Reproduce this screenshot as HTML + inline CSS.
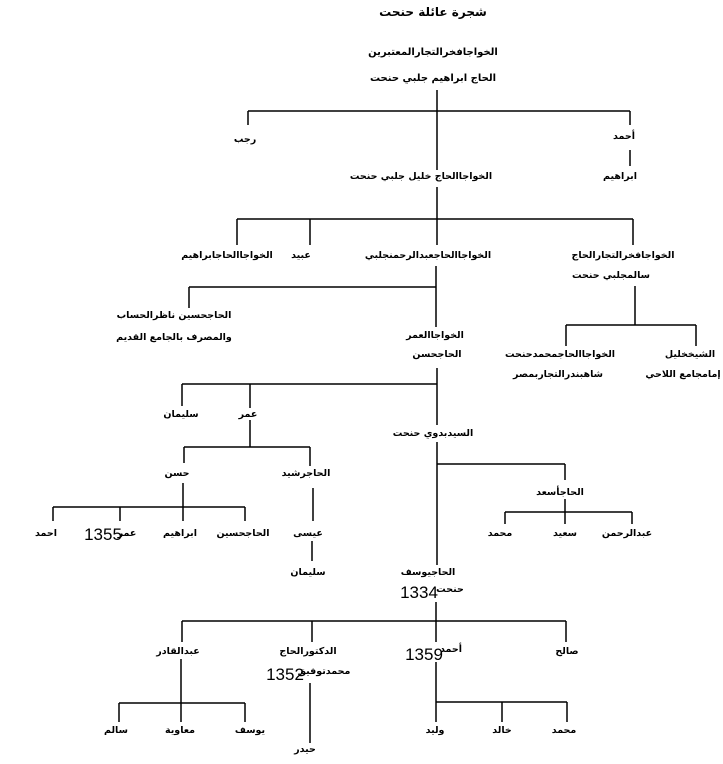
<!DOCTYPE html>
<html><head><meta charset="utf-8"><style>
html,body{margin:0;padding:0;background:#fff;width:723px;height:764px;overflow:hidden}
svg{display:block}
text{font-family:"DejaVu Sans",sans-serif;font-size:9.5px;font-weight:bold;fill:#000;text-anchor:middle;direction:rtl}
.n{font-family:"Liberation Sans Narrow","Liberation Sans",sans-serif;font-size:17px;font-weight:normal;direction:ltr}
line{stroke:#000;stroke-width:1.5}
</style></head><body>
<svg width="723" height="764" viewBox="0 0 723 764">
<text x="433" y="16" style="font-size:12px">شجرة عائلة حنحت</text>
<text x="433" y="55" style="font-size:10px">الخواجافخرالتجارالمعتبرين</text>
<text x="433" y="81" style="font-size:10px">الحاج ابراهيم جلبي حنحت</text>
<line x1="437" y1="90" x2="437" y2="170"/>
<line x1="248" y1="111" x2="630" y2="111"/>
<line x1="248" y1="111" x2="248" y2="125"/>
<line x1="630" y1="111" x2="630" y2="125"/>
<text x="245" y="142">رجب</text>
<text x="624" y="139">أحمد</text>
<line x1="630" y1="150" x2="630" y2="166"/>
<text x="620" y="179">ابراهيم</text>
<text x="421" y="179">الخواجاالحاج خليل جلبي حنحت</text>
<line x1="437" y1="187" x2="437" y2="245"/>
<line x1="237" y1="219" x2="633" y2="219"/>
<line x1="237" y1="219" x2="237" y2="245"/>
<line x1="310" y1="219" x2="310" y2="245"/>
<line x1="633" y1="219" x2="633" y2="245"/>
<text x="227" y="258">الخواجاالحاجابراهيم</text>
<text x="301" y="258">عبيد</text>
<text x="428" y="258">الخواجاالحاجعبدالرحمنجلبي</text>
<text x="623" y="258">الخواجافخرالتجارالحاج</text>
<text x="611" y="278">سالمجلبي حنحت</text>
<line x1="436" y1="266" x2="436" y2="327"/>
<line x1="189" y1="287" x2="436" y2="287"/>
<line x1="189" y1="287" x2="189" y2="308"/>
<text x="174" y="318">الحاجحسين ناظرالحساب</text>
<text x="174" y="340">والمصرف بالجامع القديم</text>
<text x="435" y="338">الخواجاالعمر</text>
<text x="437" y="357">الحاجحسن</text>
<line x1="635" y1="286" x2="635" y2="325"/>
<line x1="566" y1="325" x2="696" y2="325"/>
<line x1="566" y1="325" x2="566" y2="346"/>
<line x1="696" y1="325" x2="696" y2="346"/>
<text x="560" y="357">الخواجاالحاجمحمدحنحت</text>
<text x="558" y="377">شاهبندرالتجاربمصر</text>
<text x="690" y="357">الشيخخليل</text>
<text x="683" y="377">إمامجامع اللاحي</text>
<line x1="437" y1="368" x2="437" y2="425"/>
<line x1="182" y1="384" x2="437" y2="384"/>
<line x1="182" y1="384" x2="182" y2="406"/>
<line x1="250" y1="384" x2="250" y2="408"/>
<text x="181" y="417">سليمان</text>
<text x="248" y="417">عمر</text>
<text x="433" y="436">السيدبدوي حنحت</text>
<line x1="250" y1="420" x2="250" y2="447"/>
<line x1="184" y1="447" x2="310" y2="447"/>
<line x1="184" y1="447" x2="184" y2="463"/>
<line x1="310" y1="447" x2="310" y2="466"/>
<text x="177" y="476">حسن</text>
<text x="306" y="476">الحاجرشيد</text>
<line x1="183" y1="483" x2="183" y2="507"/>
<line x1="53" y1="507" x2="245" y2="507"/>
<line x1="53" y1="507" x2="53" y2="521"/>
<line x1="120" y1="507" x2="120" y2="521"/>
<line x1="183" y1="507" x2="183" y2="521"/>
<line x1="245" y1="507" x2="245" y2="521"/>
<line x1="313" y1="488" x2="313" y2="521"/>
<line x1="437" y1="442" x2="437" y2="565"/>
<line x1="437" y1="464" x2="565" y2="464"/>
<line x1="565" y1="464" x2="565" y2="480"/>
<text x="560" y="495">الحاجأسعد</text>
<line x1="565" y1="499" x2="565" y2="512"/>
<line x1="505" y1="512" x2="632" y2="512"/>
<line x1="505" y1="512" x2="505" y2="524"/>
<line x1="565" y1="512" x2="565" y2="524"/>
<line x1="632" y1="512" x2="632" y2="524"/>
<text x="46" y="536">احمد</text>
<text x="127" y="536">عمر</text>
<text class="n" x="103" y="540">1355</text>
<text x="180" y="536">ابراهيم</text>
<text x="243" y="536">الحاجحسين</text>
<text x="308" y="536">عيسى</text>
<text x="500" y="536">محمد</text>
<text x="565" y="536">سعيد</text>
<text x="627" y="536">عبدالرحمن</text>
<line x1="312" y1="541" x2="312" y2="561"/>
<text x="308" y="575">سليمان</text>
<text x="428" y="575">الحاجيوسف</text>
<text x="450" y="592">حنحت</text>
<text class="n" x="419" y="598">1334</text>
<line x1="436" y1="602" x2="436" y2="642"/>
<line x1="182" y1="621" x2="566" y2="621"/>
<line x1="182" y1="621" x2="182" y2="642"/>
<line x1="312" y1="621" x2="312" y2="642"/>
<line x1="566" y1="621" x2="566" y2="642"/>
<text x="178" y="654">عبدالقادر</text>
<text x="308" y="654">الدكتورالحاج</text>
<text x="451" y="652">أحمد</text>
<text class="n" x="424" y="660">1359</text>
<text x="567" y="654">صالح</text>
<text x="324" y="674">محمدتوفيق</text>
<text class="n" x="285" y="680">1352</text>
<line x1="181" y1="659" x2="181" y2="722"/>
<line x1="119" y1="703" x2="245" y2="703"/>
<line x1="119" y1="703" x2="119" y2="722"/>
<line x1="245" y1="703" x2="245" y2="722"/>
<text x="116" y="733">سالم</text>
<text x="180" y="733">معاوية</text>
<text x="250" y="733">يوسف</text>
<line x1="310" y1="683" x2="310" y2="743"/>
<text x="305" y="752">حيدر</text>
<line x1="436" y1="662" x2="436" y2="722"/>
<line x1="436" y1="702" x2="567" y2="702"/>
<line x1="502" y1="702" x2="502" y2="722"/>
<line x1="567" y1="702" x2="567" y2="722"/>
<text x="435" y="733">وليد</text>
<text x="502" y="733">خالد</text>
<text x="564" y="733">محمد</text>
</svg>
</body></html>
